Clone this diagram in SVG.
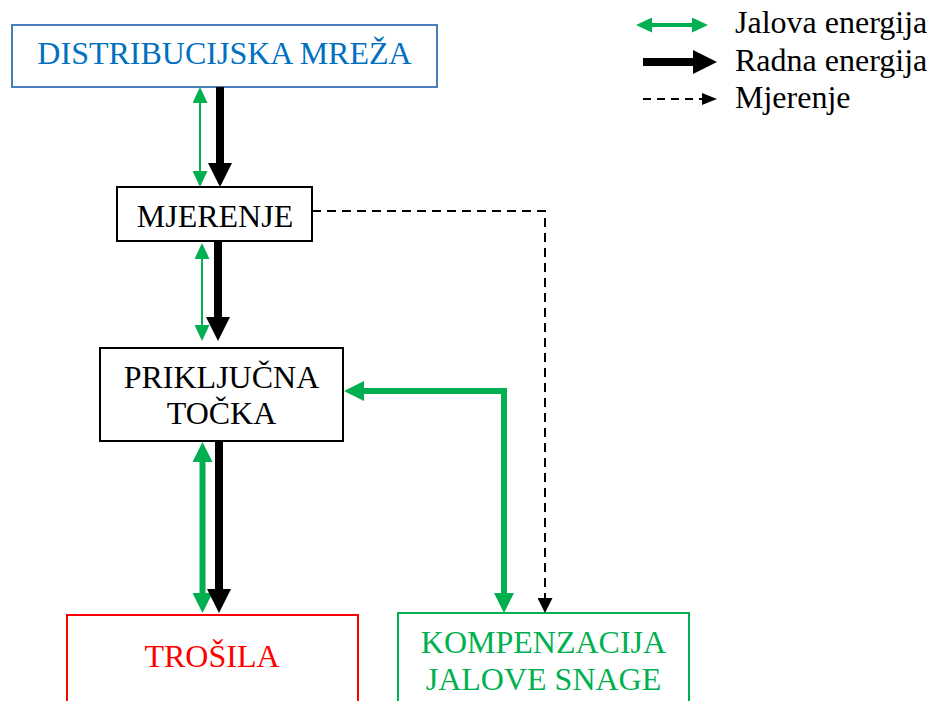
<svg xmlns="http://www.w3.org/2000/svg" width="936" height="701" viewBox="0 0 936 701">
<style>
.t{font-family:'Liberation Serif','Times New Roman','DejaVu Serif',serif;font-size:32px}
.c{text-anchor:middle}
.box{fill:#fff;stroke-width:2}
.gt{fill:none;stroke:#00b050;stroke-width:2}
.gk{fill:none;stroke:#00b050;stroke-width:6}
.bk{fill:none;stroke:#000;stroke-width:8}
.ds{fill:none;stroke:#000;stroke-width:2;stroke-dasharray:9 6}
</style>
<defs>
<marker id="mgt" markerUnits="userSpaceOnUse" viewBox="0 0 16 15" markerWidth="16" markerHeight="15" refX="0" refY="7.5" orient="auto-start-reverse"><path d="M0,0L16,7.5L0,15z" fill="#00b050"/></marker>
<marker id="mgk" markerUnits="userSpaceOnUse" viewBox="0 0 20 20" markerWidth="20" markerHeight="20" refX="0" refY="10" orient="auto-start-reverse"><path d="M0,0L20,10L0,20z" fill="#00b050"/></marker>
<marker id="mbk" markerUnits="userSpaceOnUse" viewBox="0 0 24 24" markerWidth="24" markerHeight="24" refX="0" refY="12" orient="auto"><path d="M0,0L24,12L0,24z" fill="#000"/></marker>
<marker id="mds" markerUnits="userSpaceOnUse" viewBox="0 0 15 15" markerWidth="15" markerHeight="15" refX="0" refY="7.5" orient="auto"><path d="M0,0L15,7.5L0,15z" fill="#000"/></marker>
<marker id="mdl" markerUnits="userSpaceOnUse" viewBox="0 0 15 12" markerWidth="15" markerHeight="12" refX="0" refY="6" orient="auto"><path d="M0,0L15,6L0,12z" fill="#000"/></marker>
</defs>
<g id="distribucijska">
<rect class="box" x="12" y="25" width="425" height="62" stroke="#4a7ebb"/>
<text class="t c" font-family="Liberation Serif, serif" x="224.5" y="64" fill="#0070c0">DISTRIBUCIJSKA MREŽA</text>
</g>
<g id="mjerenje">
<rect class="box" x="117" y="187" width="195" height="54" stroke="#000"/>
<text class="t c" font-family="Liberation Serif, serif" x="215" y="227" fill="#000">MJERENJE</text>
</g>
<g id="prikljucna">
<rect class="box" x="100" y="348" width="243" height="93" stroke="#000"/>
<text class="t c" font-family="Liberation Serif, serif" x="221.5" y="388" fill="#000">PRIKLJUČNA</text>
<text class="t c" font-family="Liberation Serif, serif" x="221.5" y="424" fill="#000">TOČKA</text>
</g>
<g id="trosila">
<rect class="box" x="67" y="615" width="291" height="100" stroke="#ff0000"/>
<text class="t c" font-family="Liberation Serif, serif" x="212" y="667" fill="#ff0000">TROŠILA</text>
</g>
<g id="kompenzacija">
<rect class="box" x="398" y="613" width="291" height="100" stroke="#00b050"/>
<text class="t c" font-family="Liberation Serif, serif" x="543.5" y="653" fill="#00b050">KOMPENZACIJA</text>
<text class="t c" font-family="Liberation Serif, serif" x="543.5" y="690" fill="#00b050">JALOVE SNAGE</text>
</g>
<g id="connectors">
<path class="gt" d="M200,103V171" marker-start="url(#mgt)" marker-end="url(#mgt)"/>
<path class="bk" d="M220,87V163" marker-end="url(#mbk)"/>
<path class="gt" d="M202,259V325" marker-start="url(#mgt)" marker-end="url(#mgt)"/>
<path class="bk" d="M218,241V317" marker-end="url(#mbk)"/>
<path class="gk" d="M202.5,462V593" marker-start="url(#mgk)" marker-end="url(#mgk)"/>
<path class="bk" d="M219,441V589" marker-end="url(#mbk)"/>
<path class="gk" d="M364,391H504V593" marker-start="url(#mgk)" marker-end="url(#mgk)" stroke-linejoin="miter"/>
<path class="ds" d="M312,211H545V598" marker-end="url(#mds)"/>
</g>
<g id="legend">
<path class="gt" style="stroke-width:4" d="M652,25H692" marker-start="url(#mgt)" marker-end="url(#mgt)"/>
<text class="t" font-family="Liberation Serif, serif" x="735" y="33">Jalova energija</text>
<path class="bk" d="M643,62H693" marker-end="url(#mbk)"/>
<text class="t" font-family="Liberation Serif, serif" x="735" y="71">Radna energija</text>
<path class="ds" style="stroke-dasharray:8 6" d="M643,99H702" marker-end="url(#mdl)"/>
<text class="t" font-family="Liberation Serif, serif" x="735" y="108">Mjerenje</text>
</g>
</svg>
